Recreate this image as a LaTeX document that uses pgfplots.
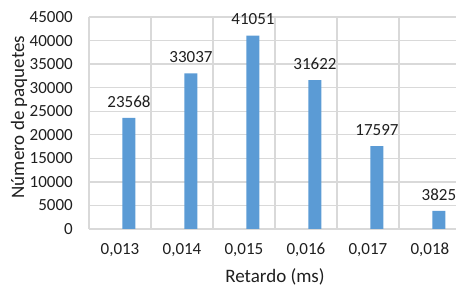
\documentclass[border=0pt]{standalone}
\usepackage{pgfplots}
\pgfplotsset{compat=1.18}
\usepackage{fontspec}
\setmainfont{Carlito}
\definecolor{barblue}{HTML}{5B9BD5}
\definecolor{gridgray}{HTML}{D9D9D9}
\definecolor{txt}{HTML}{1F1F1F}
\begin{document}
\begin{tikzpicture}
\useasboundingbox (-89pt,-59pt) rectangle (367pt,229pt);
\begin{axis}[
  at={(0pt,0pt)}, anchor=south west,
  scale only axis,
  width=367pt, height=212pt,
  xmin=-0.5, xmax=5.42,
  ymin=0, ymax=45000,
  axis line style={draw=none},
  major tick length=0pt, minor tick length=0pt,
  xtick={0,1,2,3,4,5},
  xticklabels={{0,013},{0,014},{0,015},{0,016},{0,017},{0,018}},
  minor xtick={-0.5,0.5,1.5,2.5,3.5,4.5},
  ytick={0,5000,...,45000},
  ymajorgrids, xminorgrids,
  grid style={gridgray, line width=1.3pt},
  minor grid style={gridgray, line width=1.3pt},
  /pgf/number format/assume math mode=true,
  /pgf/number format/1000 sep={},
  scaled y ticks=false,
  tick label style={font=\fontsize{17}{20}\selectfont, text=txt},
  yticklabel style={anchor=east, inner sep=0pt, xshift=-16pt},
  xticklabel style={anchor=center, inner sep=0pt, yshift=-21pt},
  xlabel={Retardo (ms)},
  ylabel={Número de paquetes},
  label style={font=\fontsize{19}{22}\selectfont, text=txt},
  xlabel style={at={(axis description cs:0.5,0)}, anchor=center, xshift=2.5pt, yshift=-48pt},
  ylabel style={at={(axis description cs:0,0.5)}, anchor=center, yshift=70pt, xshift=6pt},
  clip=false,
]
\addplot[ybar, bar width=13pt, fill=barblue, draw=none, bar shift=0pt,
  nodes near coords={\pgfmathprintnumber[1000 sep={}]{\pgfplotspointmeta}},
  every node near coord/.append style={font=\fontsize{17}{20}\selectfont, text=txt, anchor=south, yshift=7pt}]
  coordinates {(0.145,23568) (1.145,33037) (2.145,41051) (3.145,31622) (4.145,17597) (5.145,3825)};
\end{axis}
\end{tikzpicture}
\end{document}
